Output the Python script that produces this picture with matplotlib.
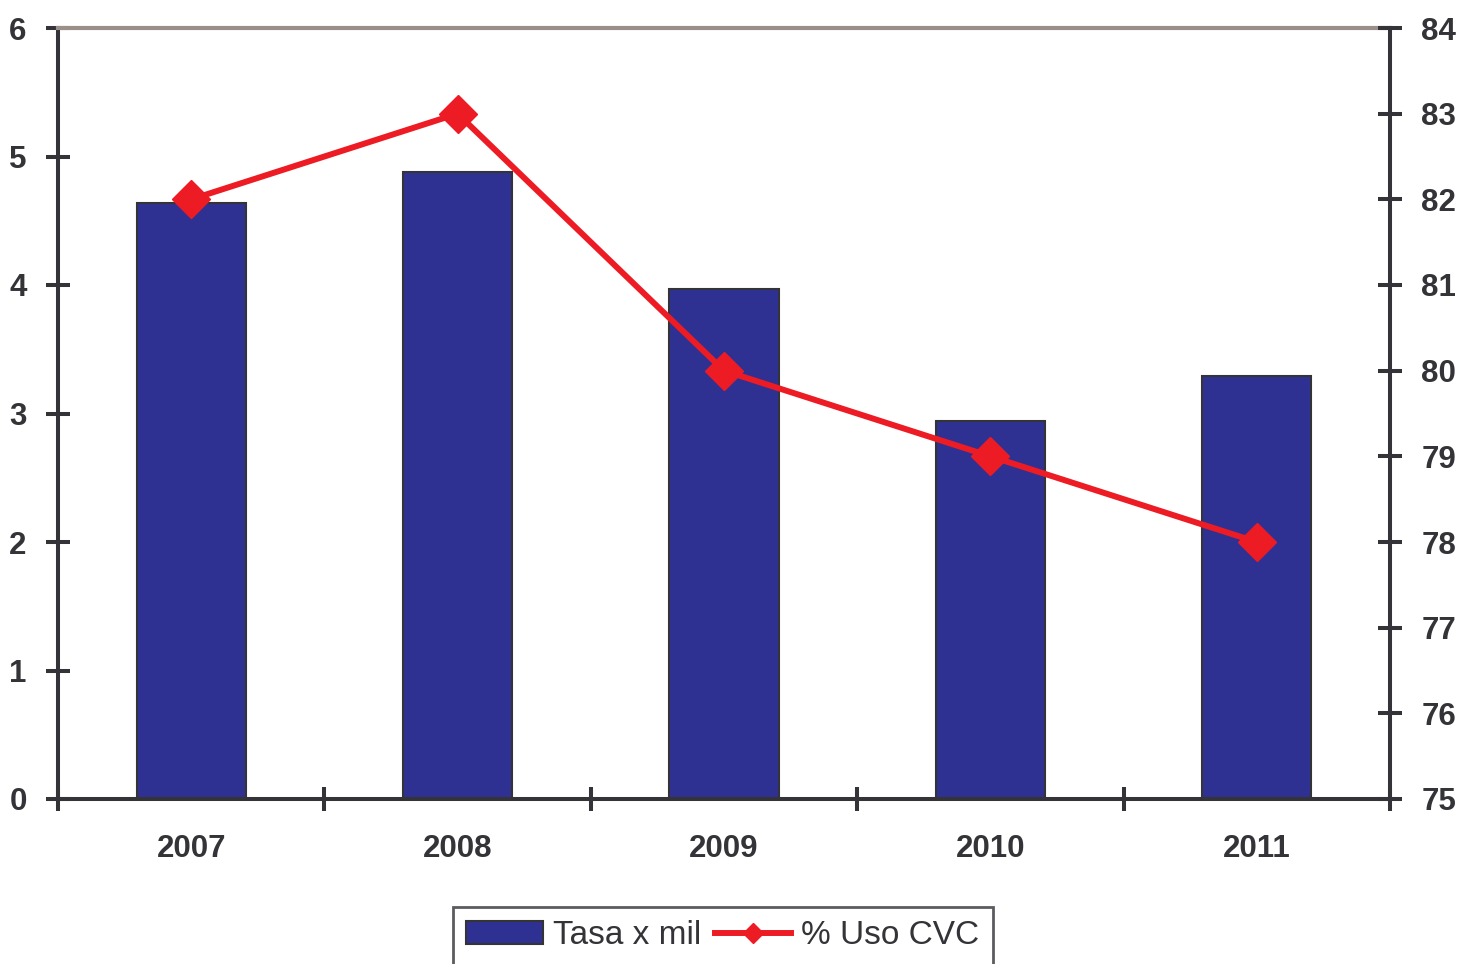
import matplotlib
matplotlib.use("Agg")
import matplotlib.pyplot as plt
import numpy as np

years = ["2007", "2008", "2009", "2010", "2011"]
tasa = [4.64, 4.88, 3.97, 2.94, 3.29]
uso_cvc = [82, 83, 80, 79, 78]
left_ticks = [0, 1, 2, 3, 4, 5, 6]
right_ticks = [75, 76, 77, 78, 79, 80, 81, 82, 83, 84]

plt.rcParams['font.family'] = ['Liberation Sans', 'DejaVu Sans']
DARK = "#333338"
BAR = "#2E3192"
RED = "#ED1C24"

fig = plt.figure(figsize=(14.61, 9.64), dpi=100)
ax = fig.add_axes([58/1461, 1-799/964, (1390-58)/1461, (799-28)/964])
x = np.arange(len(years))
bars = ax.bar(x, tasa, width=0.41, color=BAR, edgecolor=DARK, linewidth=1.5,
              label="Tasa x mil", zorder=2)
ax.set_xlim(-0.5, len(years)-0.5)
ax.set_ylim(0, 6)
ax.set_yticks(left_ticks)
ax.set_xticks(np.arange(-0.5, len(years), 1.0))
ax.set_xticklabels([])
ax.set_xticks(x, minor=True)
ax.set_xticklabels(years, minor=True, fontsize=22.5, fontweight='bold', color=DARK)
ax.tick_params(axis='x', which='minor', length=0, pad=25)
ax.tick_params(axis='x', which='major', direction='inout', length=17, width=2.9, color=DARK)
ax.tick_params(axis='y', direction='inout', length=17, width=2.9, color=DARK,
               labelsize=22.5, labelcolor=DARK, pad=14)
for lab in ax.get_yticklabels():
    lab.set_fontweight('bold')

for s in ['left', 'bottom']:
    ax.spines[s].set_color(DARK)
    ax.spines[s].set_linewidth(2.9)
ax.spines['right'].set_visible(False)
ax.spines['top'].set_color("#9A8F89")
ax.spines['top'].set_linewidth(3)

ax2 = ax.twinx()
line, = ax2.plot(x, uso_cvc, color=RED, linewidth=4.3, marker='D', markersize=19,
                 markerfacecolor=RED, markeredgecolor=RED, label="% Uso CVC", zorder=3)
ax2.set_ylim(75, 84)
ax2.set_yticks(right_ticks)
ax2.tick_params(axis='y', direction='inout', length=17, width=2.9, color=DARK,
                labelsize=22.5, labelcolor=DARK, pad=14)
for lab in ax2.get_yticklabels():
    lab.set_fontweight('bold')
for s in ['left', 'top', 'bottom']:
    ax2.spines[s].set_visible(False)
ax2.spines['right'].set_color(DARK)
ax2.spines['right'].set_linewidth(2.9)

leg = fig.legend([bars, line], ["Tasa x mil", "% Uso CVC"], ncol=2,
                 loc='upper center', bbox_to_anchor=(723/1461, 1-907/964),
                 borderaxespad=0, fontsize=24, frameon=True, fancybox=False,
                 handlelength=2.3, handletextpad=0.3, columnspacing=0.4,
                 borderpad=0.4, markerscale=0.55, labelcolor=DARK)
leg.get_frame().set_edgecolor(DARK)
leg.get_frame().set_linewidth(2)

fig.savefig("out.png", dpi=100)
